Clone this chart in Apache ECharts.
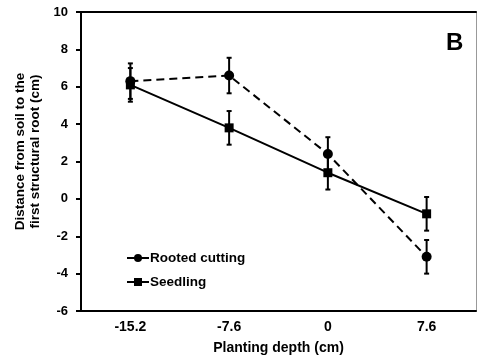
<!DOCTYPE html>
<html>
<head>
<meta charset="utf-8">
<script src="https://cdn.jsdelivr.net/npm/echarts@6/dist/echarts.min.js"></script>
<style>html,body{margin:0;padding:0;background:#fff}#c{width:477px;height:360px}</style>
</head>
<body>
<div id="c"></div>
<script>
var categories = ['-15.2', '-7.6', '0', '7.6'];
var rootedMean = [6.3, 6.6, 2.4, -3.1];
var rootedErr = [0.95, 0.95, 0.9, 0.9];
var seedlingMean = [6.1, 3.8, 1.4, -0.8];
var seedlingErr = [0.9, 0.9, 0.9, 0.9];
var seriesNames = ['Rooted cutting', 'Seedling'];

var FONT = '"Liberation Sans", Arial, sans-serif';

function errData(mean, err) {
  return mean.map(function (m, i) { return [i, m - err[i], m + err[i]]; });
}
function errRender(params, api) {
  var x = api.value(0);
  var lo = api.coord([x, api.value(1)]);
  var hi = api.coord([x, api.value(2)]);
  var w = 2.5;
  var st = { stroke: '#000', lineWidth: 2, fill: null };
  return {
    type: 'group',
    children: [
      { type: 'line', shape: { x1: lo[0], y1: lo[1], x2: hi[0], y2: hi[1] }, style: st },
      { type: 'line', shape: { x1: lo[0] - w, y1: lo[1], x2: lo[0] + w, y2: lo[1] }, style: st },
      { type: 'line', shape: { x1: hi[0] - w, y1: hi[1], x2: hi[0] + w, y2: hi[1] }, style: st }
    ]
  };
}

var chart = echarts.init(document.getElementById('c'), null, { renderer: 'canvas' });
chart.setOption({
  animation: false,
  backgroundColor: '#fff',
  textStyle: { fontFamily: FONT },
  title: {
    text: 'B', left: 441, top: 26,
    textStyle: { fontFamily: FONT, fontSize: 24, fontWeight: 'bold', color: '#000' }
  },
  grid: { left: 81, right: 1, top: 12, bottom: 47 },
  legend: {
    orient: 'vertical', left: 121, top: 246, itemGap: 10,
    itemWidth: 22, itemHeight: 10,
    textStyle: { fontFamily: FONT, fontSize: 13.5, fontWeight: 'bold', color: '#000', padding: [0, 0, 0, -4] },
    data: [
      { name: seriesNames[0], lineStyle: { type: 'solid', width: 2 } },
      { name: seriesNames[1], lineStyle: { type: 'solid', width: 2 } }
    ]
  },
  xAxis: [{
    type: 'category', data: categories, position: 'bottom',
    axisLine: { onZero: false, lineStyle: { color: '#000', width: 2 } },
    axisTick: { show: false },
    axisLabel: { color: '#000', fontFamily: FONT, fontSize: 14, fontWeight: 'bold', margin: 9 },
    name: 'Planting depth (cm)', nameLocation: 'middle', nameGap: 30,
    nameTextStyle: { color: '#000', fontFamily: FONT, fontSize: 14, fontWeight: 'bold' }
  }, {
    type: 'category', data: categories, position: 'top',
    axisLine: { onZero: false, lineStyle: { color: '#000', width: 2 } },
    axisTick: { show: false }, axisLabel: { show: false }
  }],
  yAxis: [{
    type: 'value', min: -6, max: 10, interval: 2,
    axisLine: { show: true, onZero: false, lineStyle: { color: '#000', width: 2 } },
    axisTick: { show: true, inside: false, length: 5, lineStyle: { color: '#000', width: 2 } },
    splitLine: { show: false },
    axisLabel: { color: '#000', fontFamily: FONT, fontSize: 13, fontWeight: 'bold', margin: 13 },
    name: 'Distance from soil to the\nfirst structural root (cm)', nameLocation: 'middle', nameGap: 36,
    nameTextStyle: { color: '#000', fontFamily: FONT, fontSize: 13.5, fontWeight: 'bold', lineHeight: 15, padding: [0, 0, 0, 20] }
  }, {
    type: 'value', min: -6, max: 10, interval: 2, position: 'right',
    axisLine: { show: true, onZero: false, lineStyle: { color: '#999', width: 1 } },
    axisTick: { show: false }, axisLabel: { show: false }, splitLine: { show: false }
  }],
  series: [
    {
      name: seriesNames[0], type: 'line', data: rootedMean,
      symbol: 'circle', symbolSize: 10,
      itemStyle: { color: '#000' },
      lineStyle: { color: '#000', width: 2, type: [8, 5] },
      z: 3
    },
    {
      name: seriesNames[1], type: 'line', data: seedlingMean,
      symbol: 'rect', symbolSize: 9,
      itemStyle: { color: '#000' },
      lineStyle: { color: '#000', width: 2, type: 'solid' },
      z: 3
    },
    { type: 'custom', renderItem: errRender, data: errData(rootedMean, rootedErr), z: 2, silent: true },
    { type: 'custom', renderItem: errRender, data: errData(seedlingMean, seedlingErr), z: 2, silent: true }
  ]
});
</script>
</body>
</html>
